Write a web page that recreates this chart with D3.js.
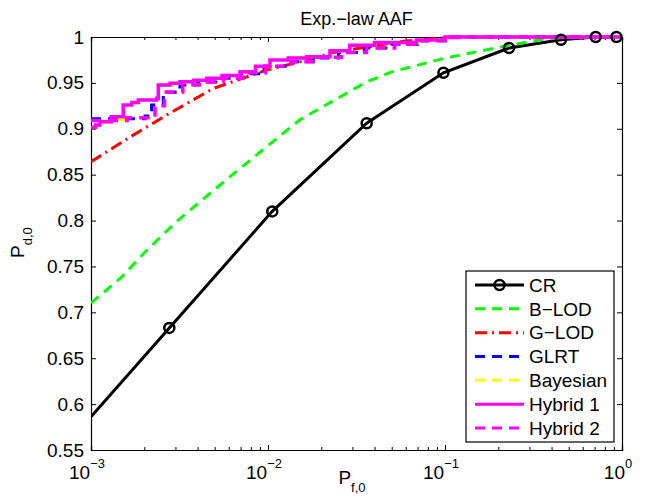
<!DOCTYPE html>
<html>
<head>
<meta charset="utf-8">
<script src="https://cdn.jsdelivr.net/npm/d3@7"></script>
<style>
body { margin: 0; background: #fff; }
text { font-family: "Liberation Sans", Arial, Helvetica, sans-serif; fill: #000; }
</style>
</head>
<body>
<svg id="svg" width="652" height="502"></svg>
<script>
// chart values
var title = "Exp.\u2212law AAF";
var xTicks = [0.001, 0.01, 0.1, 1];
var xTickExp = ["\u22123", "\u22122", "\u22121", "0"];
var yTicks = [0.55, 0.6, 0.65, 0.7, 0.75, 0.8, 0.85, 0.9, 0.95, 1];
var yTickLabels = ["0.55", "0.6", "0.65", "0.7", "0.75", "0.8", "0.85", "0.9", "0.95", "1"];
var names = ["CR", "B\u2212LOD", "G\u2212LOD", "GLRT", "Bayesian", "Hybrid 1", "Hybrid 2"];

var crX = [0.00072, 0.00277, 0.01057, 0.0361, 0.098, 0.23, 0.452, 0.71, 0.93];
var crY = [0.555, 0.683, 0.81, 0.906, 0.961, 0.988, 0.997, 1.0, 1.0];

var blodX = [0.001, 0.0015, 0.002, 0.00305, 0.005, 0.0088, 0.0152, 0.031, 0.0361, 0.05, 0.1, 0.205, 0.344, 0.5, 1];
var blodY = [0.71, 0.739, 0.765, 0.799, 0.834, 0.873, 0.91, 0.944, 0.951, 0.962, 0.977, 0.989, 0.997, 1, 1];

var glodX = [0.001, 0.00166, 0.00279, 0.00491, 0.00983, 0.0152, 0.0233, 0.0557, 0.098, 0.2, 1];
var glodY = [0.864, 0.891, 0.917, 0.944, 0.964, 0.973, 0.983, 0.995, 0.999, 1, 1];

var glrtX = [0.001, 0.00202, 0.0022, 0.00256, 0.00318, 0.004, 0.0055, 0.007, 0.0095, 0.013, 0.018, 0.025, 0.035, 0.05, 0.07, 0.1, 1];
var glrtY = [0.911, 0.914, 0.926, 0.9397, 0.9477, 0.951, 0.955, 0.960, 0.968, 0.973, 0.977, 0.983, 0.988, 0.992, 0.996, 1, 1];

var bayesX = [0.001, 0.00107, 0.00113, 0.00132, 0.00153, 0.0017, 0.00186, 0.00237, 0.00241, 0.0029, 0.0032, 0.0039, 0.0046, 0.0056, 0.007, 0.0086, 0.0104, 0.0132, 0.0167, 0.0226, 0.029, 0.041, 0.07, 0.1, 1];
var bayesY = [0.9012, 0.9036, 0.9072, 0.9098, 0.9255, 0.928, 0.931, 0.9328, 0.9472, 0.949, 0.951, 0.9527, 0.9547, 0.9577, 0.962, 0.9677, 0.9747, 0.9768, 0.9784, 0.9848, 0.9908, 0.9938, 0.9965, 1, 1];

var hyb1X = [0.001, 0.00106, 0.00112, 0.0013, 0.00152, 0.0017, 0.00185, 0.00235, 0.0024, 0.0028, 0.00318, 0.0038, 0.00451, 0.0055, 0.00695, 0.0085, 0.01026, 0.013, 0.01655, 0.0224, 0.029, 0.04, 0.069, 0.1, 1];
var hyb1Y = [0.9016, 0.904, 0.9077, 0.9132, 0.9259, 0.9285, 0.9314, 0.9332, 0.9477, 0.9495, 0.9513, 0.953, 0.955, 0.958, 0.9622, 0.968, 0.975, 0.977, 0.9786, 0.985, 0.991, 0.994, 0.9967, 1, 1];

var hyb2X = [0.001, 0.0016, 0.0021, 0.0023, 0.0026, 0.0033, 0.0042, 0.0056, 0.0072, 0.0097, 0.0135, 0.0185, 0.026, 0.036, 0.052, 0.072, 0.1, 1];
var hyb2Y = [0.909, 0.912, 0.915, 0.925, 0.94, 0.948, 0.951, 0.955, 0.961, 0.968, 0.973, 0.978, 0.983, 0.988, 0.992, 0.996, 1, 1];

var cont = d3.select("#svg");
var pLeft = 91, pRight = 622, pTop = 37, pBottom = 450;

var x = d3.scaleLog().domain([0.001, 1]).range([pLeft, pRight]);
var y = d3.scaleLinear().domain([0.55, 1]).range([pBottom, pTop]);

cont.append("rect").attr("width", 652).attr("height", 502).attr("fill", "#fff");

cont.append("clipPath").attr("id", "clip")
  .append("rect").attr("x", pLeft).attr("y", pTop - 2).attr("width", pRight - pLeft).attr("height", pBottom - pTop + 2);

// title
cont.append("text")
  .attr("x", (pLeft + pRight) / 2).attr("y", 25)
  .attr("text-anchor", "middle").attr("font-size", 18)
  .text(title);

// axes box with inward ticks
var axB = d3.axisBottom(x).tickValues(xTicks).tickSize(-5).tickFormat("");
var axT = d3.axisTop(x).tickValues(xTicks).tickSize(-5).tickFormat("");
var minor = x.ticks().filter(function(d) { return Math.abs(Math.log10(d) - Math.round(Math.log10(d))) > 1e-6; });
var axBm = d3.axisBottom(x).tickValues(minor).tickSize(-3).tickFormat("");
var axTm = d3.axisTop(x).tickValues(minor).tickSize(-3).tickFormat("");
var axL = d3.axisLeft(y).tickValues(yTicks).tickSize(-5).tickFormat("");
var axR = d3.axisRight(y).tickValues(yTicks).tickSize(-5).tickFormat("");

var axes = [
  [axB, "translate(0," + pBottom + ")"], [axT, "translate(0," + pTop + ")"],
  [axBm, "translate(0," + pBottom + ")"], [axTm, "translate(0," + pTop + ")"],
  [axL, "translate(" + pLeft + ",0)"], [axR, "translate(" + pRight + ",0)"]
];
axes.forEach(function(a) {
  var g = cont.append("g").attr("transform", a[1]).call(a[0]);
  g.selectAll("path").attr("stroke", "#000").attr("stroke-width", 1.2);
  g.selectAll("line").attr("stroke", "#000").attr("stroke-width", 1);
});

// tick labels
cont.selectAll(".ylab").data(yTicks).enter().append("text")
  .attr("x", pLeft - 7).attr("y", function(d) { return y(d) + 6.5; })
  .attr("text-anchor", "end").attr("font-size", 19)
  .text(function(d, i) { return yTickLabels[i]; });

var xl = cont.selectAll(".xlab").data(xTicks).enter().append("text")
  .attr("x", function(d) { return x(d) - 4; }).attr("y", 479)
  .attr("text-anchor", "middle").attr("font-size", 19);
xl.append("tspan").text("10");
xl.append("tspan").attr("dy", -11).attr("font-size", 13).text(function(d, i) { return xTickExp[i]; });

// axis labels
var xt = cont.append("text").attr("x", 352).attr("y", 484).attr("text-anchor", "middle").attr("font-size", 19);
xt.append("tspan").text("P");
xt.append("tspan").attr("dy", 8).attr("font-size", 13).text("f,0");

var yt = cont.append("text").attr("transform", "translate(24,258) rotate(-90)").attr("font-size", 19);
yt.append("tspan").text("P");
yt.append("tspan").attr("dy", 8).attr("font-size", 13).text("d,0");

// series
var series = [
  {xs: crX, ys: crY, color: "#000000", dash: null, step: false, marker: true, w: 3},
  {xs: blodX, ys: blodY, color: "#00ff00", dash: "10,7", step: false, w: 3},
  {xs: glodX, ys: glodY, color: "#ff0000", dash: "12,5,2,5", step: false, w: 3},
  {xs: glrtX, ys: glrtY, color: "#0000ff", dash: "10,7", step: true, w: 3},
  {xs: bayesX, ys: bayesY, color: "#ffff00", dash: "10,7", step: true, w: 3},
  {xs: hyb1X, ys: hyb1Y, color: "#ff00ff", dash: null, step: true, w: 3.5},
  {xs: hyb2X, ys: hyb2Y, color: "#ff00ff", dash: "10,7", step: true, w: 3.5}
];

var plot = cont.append("g").attr("clip-path", "url(#clip)");
series.forEach(function(s) {
  var pts = s.xs.map(function(d, i) { return [d, s.ys[i]]; });
  var line = d3.line()
    .x(function(d) { return x(d[0]); })
    .y(function(d) { return y(d[1]); })
    .curve(s.step ? d3.curveStepAfter : d3.curveLinear);
  plot.append("path")
    .attr("d", line(pts))
    .attr("fill", "none")
    .attr("stroke", s.color)
    .attr("stroke-width", s.w)
    .attr("stroke-dasharray", s.dash);
});

// CR markers (not clipped, only inside x range)
var crPts = crX.map(function(d, i) { return [d, crY[i]]; }).filter(function(d) { return d[0] >= 0.001; });
cont.selectAll(".mk").data(crPts).enter().append("circle")
  .attr("cx", function(d) { return x(d[0]); })
  .attr("cy", function(d) { return y(d[1]); })
  .attr("r", 5)
  .attr("fill", "none")
  .attr("stroke", "#000")
  .attr("stroke-width", 2.5);

// legend
var lx = 466, ly = 271, lw = 148, lh = 171;
var leg = cont.append("g");
leg.append("rect").attr("x", lx).attr("y", ly).attr("width", lw).attr("height", lh)
  .attr("fill", "#fff").attr("stroke", "#000").attr("stroke-width", 1.2);
var ls = d3.scalePoint().domain(names).range([285, 428]);
names.forEach(function(n, i) {
  var s = series[i];
  var yy = ls(n);
  leg.append("line").attr("x1", 475).attr("x2", 524).attr("y1", yy).attr("y2", yy)
    .attr("stroke", s.color).attr("stroke-width", 3).attr("stroke-dasharray", s.dash);
  if (s.marker) {
    leg.append("circle").attr("cx", 499.5).attr("cy", yy).attr("r", 5)
      .attr("fill", "none").attr("stroke", "#000").attr("stroke-width", 2.5);
  }
  leg.append("text").attr("x", 529).attr("y", yy + 6.8).attr("font-size", 19).text(n);
});
</script>
</body>
</html>
